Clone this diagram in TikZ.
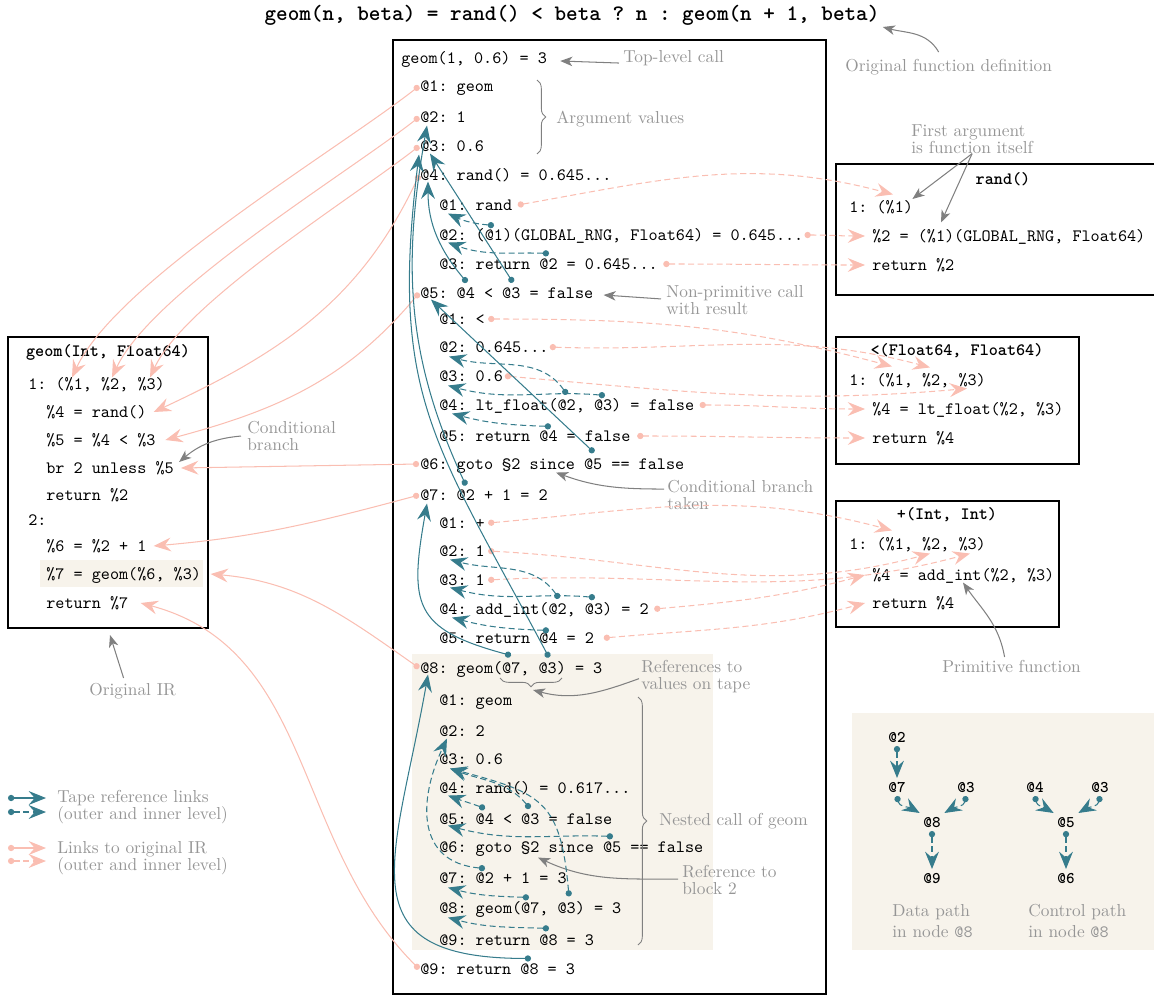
\documentclass[tikz,border=0pt]{standalone}
\usepackage{tikz}
\usetikzlibrary{arrows.meta}
\usetikzlibrary{decorations.pathreplacing}

\definecolor{tapeteal}{RGB}{54,124,140}
\definecolor{irpink}{RGB}{250,190,178}
\definecolor{panelbg}{RGB}{247,243,235}
\definecolor{notetext}{RGB}{150,150,150}
\definecolor{notegray}{RGB}{128,128,128}

\begin{document}
\begin{tikzpicture}[x=0.577pt, y=-0.577pt,
    code/.style={font=\ttfamily\frenchspacing, anchor=west, inner sep=0pt, text height=6pt, text depth=0pt},
    head/.style={font=\ttfamily\bfseries\frenchspacing, inner sep=0pt, text height=6pt, text depth=0pt},
    note/.style={font=\fontsize{10}{9.8}\selectfont, text=notetext, anchor=north west, inner sep=0pt, align=left},
    box/.style={draw=black, line width=0.8pt},
    tape/.style={draw=tapeteal, line width=0.6pt, {Circle[length=3.6pt]}-{Stealth[length=10pt,width=8pt,inset=3.5pt]}},
    tapein/.style={tape, dash pattern=on 3.5pt off 2pt},
    irlink/.style={draw=irpink, line width=0.6pt, {Circle[length=3.6pt]}-{Stealth[length=10pt,width=8pt,inset=3.5pt]}},
    irlinkin/.style={irlink, dash pattern=on 3.5pt off 2pt},
    notearrow/.style={draw=notegray, line width=0.6pt, -{Stealth[length=7pt,width=5.5pt,inset=2pt]}},
    notebrace/.style={draw=notegray, line width=0.5pt, decorate, decoration={brace, amplitude=5pt}},
    gnode/.style={font=\fontsize{9.4}{11}\selectfont\ttfamily\bfseries, inner sep=2pt, text height=6pt, text depth=0pt}]
    \useasboundingbox (0,0) rectangle (1154,996);

    % Backgrounds
    \fill[panelbg] (412,654) rectangle (713,950); % nested call
    \fill[panelbg] (40,560) rectangle (203,587);
    \fill[panelbg] (852,713) rectangle (1154,950); % paths panel

    % Boxes
    \draw[box] (393,40) rectangle (826,994); % tape
    \draw[box] (8,337) rectangle (208,628); % original IR
    \draw[box] (836,164) rectangle (1175,295);
    \draw[box] (836,337) rectangle (1079,464);
    \draw[box] (836,501) rectangle (1059,627);
    \coordinate (irbox-s) at (110,628);

    % Definition
    \node[font=\ttfamily\bfseries\frenchspacing\fontsize{12.75}{14}\selectfont, inner sep=0pt] (title) at (572,15) {geom(n, beta) = rand() < beta ? n : geom(n + 1, beta)};

    % Tape
    \node[code] (t0) at (401,58) {geom(1, 0.6) = 3};
    \node[code] (o1) at (420,86) {@1: geom};
    \node[code] (o2) at (420,117) {@2: 1};
    \node[code] (o3) at (420,146) {@3: 0.6};
    \node[code] (o4) at (420,175) {@4: rand() = 0.645...};
    \node[code] (a1) at (439,205) {@1: rand};
    \node[code] (a2) at (439,235) {@2: (@1)(GLOBAL\_RNG, Float64) = 0.645...};
    \node[code] (a3) at (439,264) {@3: return @2 = 0.645...};
    \node[code] (o5) at (420,293) {@5: @4 < @3 = false};
    \node[code] (b1) at (439,319) {@1: <};
    \node[code] (b2) at (439,347) {@2: 0.645...};
    \node[code] (b3) at (439,376) {@3: 0.6};
    \node[code] (b4) at (439,405) {@4: lt\_float(@2, @3) = false};
    \node[code] (b5) at (439,436) {@5: return @4 = false};
    \node[code] (o6) at (420,464) {@6: goto §2 since @5 == false};
    \node[code] (o7) at (420,495) {@7: @2 + 1 = 2};
    \node[code] (c1) at (439,523) {@1: +};
    \node[code] (c2) at (439,551) {@2: 1};
    \node[code] (c3) at (439,580) {@3: 1};
    \node[code] (c4) at (439,609) {@4: add\_int(@2, @3) = 2};
    \node[code] (c5) at (439,638) {@5: return @4 = 2};
    \node[code] (o8) at (420,668) {@8: geom(@7, @3) = 3};
    \node[code] (n1) at (439,700) {@1: geom};
    \node[code] (n2) at (439,731) {@2: 2};
    \node[code] (n3) at (439,759) {@3: 0.6};
    \node[code] (n4) at (439,788) {@4: rand() = 0.617...};
    \node[code] (n5) at (439,819) {@5: @4 < @3 = false};
    \node[code] (n6) at (439,847) {@6: goto §2 since @5 == false};
    \node[code] (n7) at (439,878) {@7: @2 + 1 = 3};
    \node[code] (n8) at (439,908) {@8: geom(@7, @3) = 3};
    \node[code] (n9) at (439,940) {@9: return @8 = 3};
    \node[code] (o9) at (420,969) {@9: return @8 = 3};

    % Original IR
    \node[head] (ir0) at (108,351) {geom(Int, Float64)};
    \node[code] (ir1) at (28,384) {1: (\%1, \%2, \%3)};
    \node[code] (ir2) at (46,412) {\%4 = rand()};
    \node[code] (ir3) at (46,440) {\%5 = \%4 < \%3};
    \node[code] (ir4) at (46,468) {br 2 unless \%5};
    \node[code] (ir5) at (46,495) {return \%2};
    \node[code] (ir6) at (28,520) {2:};
    \node[code] (ir7) at (46,546) {\%6 = \%2 + 1};
    \node[code] (ir8) at (46,574) {\%7 = geom(\%6, \%3)};
    \node[code] (ir9) at (46,603) {return \%7};

    % Callee IR
    \node[head] (r0) at (1003,179) {rand()};
    \node[code] (r1) at (849,207) {1: (\%1)};
    \node[code] (r2) at (872,236) {\%2 = (\%1)(GLOBAL\_RNG, Float64)};
    \node[code] (r3) at (872,265) {return \%2};
    \node[head] (l0) at (957,350) {<(Float64, Float64)};
    \node[code] (l1) at (849,380) {1: (\%1, \%2, \%3)};
    \node[code] (l2) at (872,409) {\%4 = lt\_float(\%2, \%3)};
    \node[code] (l3) at (872,438) {return \%4};
    \node[head] (p0) at (947,514) {+(Int, Int)};
    \node[code] (p1) at (849,544) {1: (\%1, \%2, \%3)};
    \node[code] (p2) at (872,575) {\%4 = add\_int(\%2, \%3)};
    \node[code] (p3) at (872,603) {return \%4};

    % Notes
    \node[note] (nt-top) at (623,50) {Top-level call};
    \node[note] (nt-def) at (845,59) {Original function definition};
    \node[note] (nt-args) at (556,111) {Argument values};
    \node[note] (nt-first) at (911,124) {First argument\\is function itself};
    \node[note] (nt-nonprim) at (666,285) {Non-primitive call\\with result};
    \node[note] (nt-cond) at (247,421) {Conditional\\branch};
    \node[note] (nt-taken) at (667,480) {Conditional branch\\taken};
    \node[note] (nt-refs) at (641,660) {References to\\values on tape};
    \node[note] (nt-nested) at (659,813) {Nested call of geom};
    \node[note] (nt-block) at (682,865) {Reference to\\block 2};
    \node[note] (nt-prim) at (942,660) {Primitive function};
    \node[note] (nt-orig) at (89,683) {Original IR};
    \node[note] (nt-tape) at (57,790) {Tape reference links\\(outer and inner level)};
    \node[note] (nt-ir) at (57,841) {Links to original IR\\(outer and inner level)};
    \node[note, font=\fontsize{10}{12}\selectfont] (nt-data) at (892,904) {Data path\\in node \texttt{@8}};
    \node[note, font=\fontsize{10}{12}\selectfont] (nt-ctrl) at (1028,904) {Control path\\in node \texttt{@8}};

    % Braces
    \draw[notebrace] (537,80) -- (537,154);
    \draw[notebrace] (562,678) -- (500,678) coordinate[midway] (refs-mid);
    \draw[notebrace] (638,697) -- (638,945);

    % Note arrows
    \draw[notearrow] ([shift={(-4,5)}]nt-top.west) -- ([shift={(13,3)}]t0.east);
    \draw[notearrow] ([shift={(-10,-7)}]nt-def.north) to[out=120,in=-15] ([shift={(3,12)}]title.east);
    \draw[notearrow] (nt-first.south) -- ([shift={(-1,-8)}]r1.east);
    \draw[notearrow] (nt-first.south) -- ([shift={(69,-8)}]r2.north west);
    \draw[notearrow] ([shift={(-5,-1)}]nt-nonprim.west) -- ([shift={(10,2)}]o5.east);
    \draw[notearrow] ([shift={(-6,0)}]nt-cond.west) to[out=185,in=40] ([shift={(5,-6)}]ir4.east);
    \draw[notearrow] ([shift={(-3,-6)}]nt-taken.west) to[out=180,in=-20] ([shift={(136,3)}]o6.south west);
    \draw[notearrow] ([shift={(-2,2)}]nt-refs.west) to[out=200,in=-15] ([shift={(2,12)}]refs-mid);
    \draw[notearrow] ([shift={(-4,-1)}]nt-block.west) to[out=180,in=-25] ([shift={(99,5)}]n6.south west);
    \draw[notearrow] ([shift={(-7,-3)}]nt-prim.north) to[out=100,in=-55] ([shift={(91,2)}]p2.south west);
    \draw[notearrow] ([shift={(-9,-5)}]nt-orig.north) -- ([shift={(0,7)}]irbox-s);

    % Links to original IR
    \draw[irlink] ([xshift=-0.5pt]o1.west) to[out=218,in=65,looseness=0.6] ([shift={(44,-1)}]ir1.north west);
    \draw[irlink] ([xshift=-0.5pt]o2.west) to[out=218,in=65,looseness=0.6] ([shift={(84,-1)}]ir1.north west);
    \draw[irlink] ([xshift=-0.5pt]o3.west) to[out=218,in=65,looseness=0.6] ([shift={(122,-1)}]ir1.north west);
    \draw[irlink] ([xshift=-0.5pt]o4.west) to[out=245,in=25] ([xshift=4pt]ir2.east);
    \draw[irlink] ([xshift=-0.5pt]o5.west) to[out=230,in=15] ([xshift=5.5pt]ir3.east);
    \draw[irlink] ([xshift=-0.5pt]o6.west) -- ([xshift=4pt]ir4.east);
    \draw[irlink] ([xshift=-0.5pt]o7.west) to[out=195,in=5] ([xshift=4pt]ir7.east);
    \draw[irlink] ([xshift=-0.5pt]o8.west) to[out=145,in=-5] ([xshift=5.4pt]ir8.east);
    \draw[irlink] ([xshift=-0.5pt]o9.west) to[out=135,in=-15] ([xshift=7pt]ir9.east);

    \draw[irlinkin] ([xshift=3pt]a1.east) to[out=10,in=165] ([shift={(44,-7)}]r1.north west);
    \draw[irlinkin] ([xshift=0.5pt]a2.east) to[out=0,in=180] ([xshift=-4pt]r2.west);
    \draw[irlinkin] ([xshift=3pt]a3.east) to[out=0,in=180] ([xshift=-4pt]r3.west);
    \draw[irlinkin] ([xshift=1.7pt]b1.east) to[out=0,in=165] ([shift={(43,-8)}]l1.north west);
    \draw[irlinkin] ([xshift=0.5pt]b2.east) to[out=-2,in=165] ([shift={(81,-7)}]l1.north west);
    \draw[irlinkin] ([xshift=0.8pt]b3.east) to[out=-5,in=185] ([shift={(118,3)}]l1.south west);
    \draw[irlinkin] ([xshift=3pt]b4.east) to[out=0,in=180] ([xshift=-4pt]l2.west);
    \draw[irlinkin] ([xshift=3.7pt]b5.east) to[out=0,in=180] ([xshift=-4pt]l3.west);
    \draw[irlinkin] ([xshift=1.7pt]c1.east) to[out=5,in=165] ([shift={(43,-8)}]p1.north west);
    \draw[irlinkin] ([xshift=1.7pt]c2.east) to[out=-3,in=195] ([shift={(81,4)}]p1.south west);
    \draw[irlinkin] ([xshift=1.7pt]c3.east) to[out=3,in=195] ([shift={(121,4)}]p1.south west);
    \draw[irlinkin] ([xshift=3pt]c4.east) to[out=5,in=195] ([xshift=-4pt]p2.west);
    \draw[irlinkin] ([xshift=5.4pt]c5.east) to[out=5,in=195] ([xshift=-4pt]p3.west);

    % Tape references, outer level
    \draw[tape] ([shift={(47,-5)}]o5.north west) to[out=130,in=-90] ([shift={(8,1)}]o4.south west);
    \draw[tape] ([shift={(93,-5)}]o5.north west) -- ([shift={(10,2)}]o3.south west);
    \draw[tape] ([shift={(174,-6)}]o6.north west) -- ([shift={(11,1)}]o5.south west);
    \draw[tape] ([shift={(46,-4)}]o7.north west) to[out=115,in=-100] ([shift={(7,3)}]o2.south west);
    \draw[tape] ([shift={(91,-7)}]o8.north west) to[out=165,in=-100,looseness=1.5] ([shift={(7,3)}]o7.south west);
    \draw[tape] ([shift={(129,-5)}]o8.north west) to[out=118,in=-97,looseness=1.2] ([shift={(-1,3)}]o3.south west);
    \draw[tape] ([shift={(111,-5)}]o9.north west) to[out=180,in=-100,looseness=1.6] ([shift={(8,1)}]o8.south west);

    % Tape references, inner level
    \draw[tapein] ([shift={(55,-4)}]a2.north west) to[out=175,in=-25] ([shift={(9,3)}]a1.south west);
    \draw[tapein] ([shift={(110,-5)}]a3.north west) to[out=178,in=-20] ([shift={(9,2)}]a2.south west);
    \draw[tapein] ([shift={(128,-5)}]b4.north west) to[out=125,in=-15] ([shift={(10,4)}]b2.south west);
    \draw[tapein] ([shift={(166,-4)}]b4.north west) to[out=175,in=-15] ([shift={(9,4)}]b3.south west);
    \draw[tapein] ([shift={(112,-4)}]b5.north west) to[out=178,in=-15] ([shift={(13,3)}]b4.south west);
    \draw[tapein] ([shift={(120,-5)}]c4.north west) to[out=125,in=-15] ([shift={(11,3)}]c2.south west);
    \draw[tapein] ([shift={(156,-6)}]c4.north west) to[out=175,in=-15] ([shift={(11,2)}]c3.south west);
    \draw[tapein] ([shift={(110,-2)}]c5.north west) to[out=178,in=-15] ([shift={(13,3)}]c4.south west);
    \draw[tapein] ([shift={(46,-5)}]n5.north west) to[out=160,in=-20] ([shift={(9,2)}]n4.south west);
    \draw[tapein] ([shift={(91,-5)}]n5.north west) to[out=130,in=-20] ([shift={(11,4)}]n3.south west);
    \draw[tapein] ([shift={(174,-5)}]n6.north west) to[out=178,in=-15] ([shift={(9,1)}]n5.south west);
    \draw[tapein] ([shift={(46,-4)}]n7.north west) to[out=175,in=-115,looseness=1.3] ([shift={(8,2)}]n2.south west);
    \draw[tapein] ([shift={(90,-5)}]n8.north west) to[out=178,in=-15] ([shift={(9,4)}]n7.south west);
    \draw[tapein] ([shift={(130,-6)}]n8.north west) to[out=95,in=-15,looseness=1.4] ([shift={(11,4)}]n3.south west);
    \draw[tapein] ([shift={(110,-6)}]n9.north west) to[out=178,in=-15] ([shift={(9,4)}]n8.south west);

    % Legend
    \coordinate (lg1) at (8,798);
    \coordinate (lg2) at (8,812);
    \coordinate (lg3) at (8,848);
    \coordinate (lg4) at (8,861);
    \draw[tape] (lg1) -- ++(38,0);
    \draw[tapein] (lg2) -- ++(38,0);
    \draw[irlink] (lg3) -- ++(38,0);
    \draw[irlinkin] (lg4) -- ++(38,0);

    % Data and control path in @8
    \node[gnode] (g2) at (897,737) {@2};
    \node[gnode] (g7) at (897,787) {@7};
    \node[gnode] (g3) at (966,787) {@3};
    \node[gnode] (g8) at (932,822) {@8};
    \node[gnode] (g9) at (932,878) {@9};
    \node[gnode] (h4) at (1035,787) {@4};
    \node[gnode] (h3) at (1100,787) {@3};
    \node[gnode] (h5) at (1066,822) {@5};
    \node[gnode] (h6) at (1066,878) {@6};
    \draw[tapein] (g2) -- (g7);
    \draw[tapein] (g7.south) to[out=-80,in=150] (g8.north west);
    \draw[tapein] (g3.south) to[out=-100,in=30] (g8.north east);
    \draw[tapein] (g8) -- (g9);
    \draw[tapein] (h4.south) to[out=-80,in=150] (h5.north west);
    \draw[tapein] (h3.south) to[out=-100,in=30] (h5.north east);
    \draw[tapein] (h5) -- (h6);
\end{tikzpicture}
\end{document}
